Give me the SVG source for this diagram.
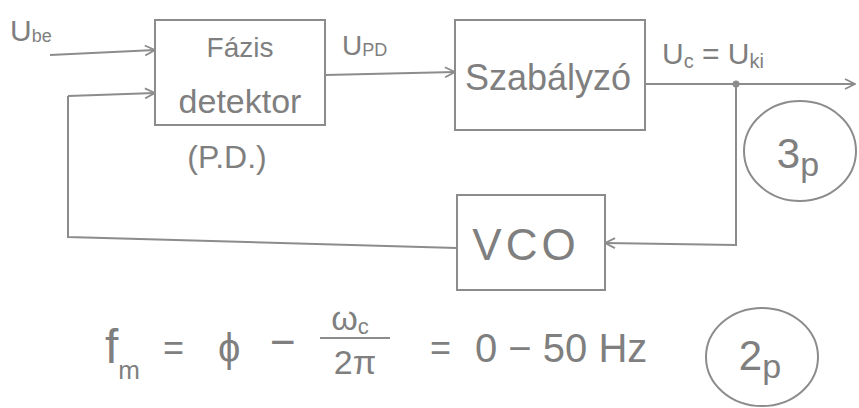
<svg xmlns="http://www.w3.org/2000/svg" width="859" height="408" viewBox="0 0 859 408">
<style>
.box{fill:none;stroke:#8c8c8c;stroke-width:2}
.ln{fill:none;stroke:#8c8c8c;stroke-width:2}
.t{font-family:"Liberation Sans","DejaVu Sans",sans-serif;fill:#7f7f7f}
.c{fill:none;stroke:#8c8c8c;stroke-width:2}
</style>
<defs>
<marker id="ah" viewBox="0 0 12 12" refX="11" refY="6" markerWidth="12" markerHeight="12" markerUnits="userSpaceOnUse" orient="auto">
<path d="M1,1 L11,6 L1,11" fill="none" stroke="#8c8c8c" stroke-width="1.8"/>
</marker>
</defs>
<rect width="859" height="408" fill="#ffffff"/>
<g id="connectors">
<path class="ln" d="M50,55 L155,50" marker-end="url(#ah)"/>
<path class="ln" d="M68,96 L155,93" marker-end="url(#ah)"/>
<path class="ln" d="M68,96 L68,237 L457,248"/>
<path class="ln" d="M325,75 L455,72" marker-end="url(#ah)"/>
<path class="ln" d="M645,84 L855,84" marker-end="url(#ah)"/>
<path class="ln" d="M736,84 L736,245 L605,243" marker-end="url(#ah)"/>
<circle cx="736" cy="84" r="3.5" fill="#8c8c8c"/>
</g>
<g id="pd">
<rect class="box" x="155" y="20" width="170" height="105"/>
<text class="t" x="240" y="57" font-size="28" text-anchor="middle">Fázis</text>
<text class="t" x="240" y="113" font-size="34" text-anchor="middle">detektor</text>
<text class="t" x="227" y="168" font-size="32" text-anchor="middle">(P.D.)</text>
</g>
<g id="szabalyzo">
<rect class="box" x="455" y="20" width="190" height="110"/>
<text class="t" x="548" y="90" font-size="36" text-anchor="middle">Szabályzó</text>
</g>
<g id="vco">
<rect class="box" x="457" y="195" width="148" height="95"/>
<text class="t" x="526" y="260" font-size="44" text-anchor="middle" letter-spacing="4">VCO</text>
</g>
<g id="labels">
<text class="t" x="10" y="41" font-size="30">U<tspan font-size="18" dy="1">be</tspan></text>
<text class="t" x="342" y="55" font-size="28">U<tspan font-size="18" dy="1">PD</tspan></text>
<text class="t" x="662" y="64" font-size="30">U<tspan font-size="20" dy="4">c</tspan><tspan dy="-4"> = U</tspan><tspan font-size="20" dy="4">ki</tspan></text>
</g>
<g id="p3">
<ellipse class="c" cx="800" cy="151" rx="56" ry="50"/>
<text class="t" x="798" y="168" font-size="42" text-anchor="middle">3<tspan font-size="34" dy="8">p</tspan></text>
</g>
<g id="formula">
<text class="t" x="105" y="363" font-size="48">f<tspan font-size="26" dy="16">m</tspan></text>
<text class="t" x="163" y="360" font-size="36">=</text>
<text class="t" x="218" y="362" font-size="40">ϕ</text>
<text class="t" x="270" y="357" font-size="44">−</text>
<text class="t" x="350" y="330" font-size="34" text-anchor="middle">ω<tspan font-size="22" dy="4">c</tspan></text>
<line class="ln" x1="320" y1="338" x2="390" y2="338"/>
<text class="t" x="355" y="374" font-size="34" text-anchor="middle">2π</text>
<text class="t" x="430" y="360" font-size="36">=</text>
<text class="t" x="475" y="362" font-size="40">0 − 50 Hz</text>
</g>
<g id="p2">
<ellipse class="c" cx="762" cy="357" rx="56" ry="49"/>
<text class="t" x="760" y="370" font-size="42" text-anchor="middle">2<tspan font-size="34" dy="8">p</tspan></text>
</g>
</svg>
